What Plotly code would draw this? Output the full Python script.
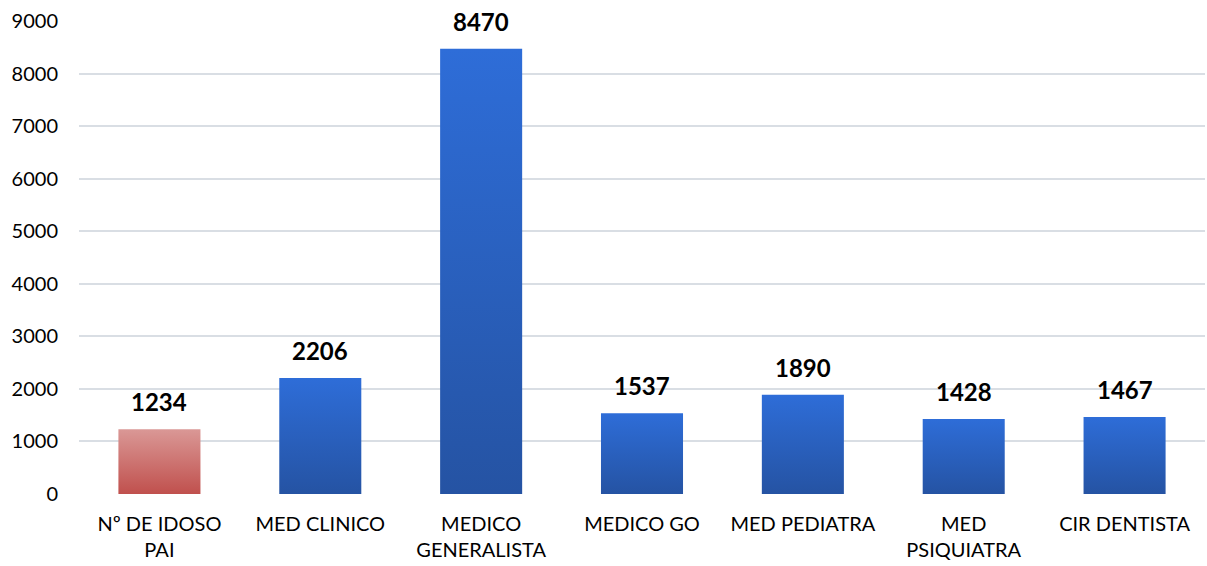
import plotly.graph_objects as go

categories = ["Nº DE IDOSO<br>PAI", "MED CLINICO", "MEDICO<br>GENERALISTA", "MEDICO GO",
              "MED PEDIATRA", "MED<br>PSIQUIATRA", "CIR DENTISTA"]
values = [1234, 2206, 8470, 1537, 1890, 1428, 1467]
highlight = [True, False, False, False, False, False, False]
y_ticks = [0, 1000, 2000, 3000, 4000, 5000, 6000, 7000, 8000, 9000]

half_w = 0.255
red_scale = [[0, "#C0504D"], [1, "#DA9896"]]
blue_scale = [[0, "#2553A3"], [1, "#2E6DD8"]]
FONT = "Lato, Noto Sans, sans-serif"

fig = go.Figure()
for i, (v, h) in enumerate(zip(values, highlight)):
    xs = [i - half_w, i + half_w, i + half_w, i - half_w, i - half_w]
    ys = [0, 0, v, v, 0]
    fig.add_trace(go.Scatter(
        x=xs, y=ys, mode="lines", fill="toself",
        line=dict(width=0, color="rgba(0,0,0,0)"),
        fillgradient=dict(type="vertical", colorscale=red_scale if h else blue_scale,
                          start=0, stop=v),
        showlegend=False, hoverinfo="skip",
    ))

for i, v in enumerate(values):
    fig.add_annotation(
        x=i, y=v, xref="x", yref="y", text=f"<b>{v}</b>",
        showarrow=False, yanchor="bottom", yshift=11,
        font=dict(family=FONT, size=24, color="#000000"),
    )

fig.update_layout(
    width=1207, height=566,
    margin=dict(l=79, r=2, t=21, b=72, autoexpand=False),
    paper_bgcolor="white", plot_bgcolor="white",
    font=dict(family=FONT, size=20, color="#000000"),
)
fig.update_xaxes(
    range=[-0.5, len(values) - 0.5], tickmode="array",
    tickvals=list(range(len(values))), ticktext=categories,
    showgrid=False, zeroline=False, showline=False, ticks="",
    ticklabelstandoff=16, tickfont=dict(size=20), automargin=False,
)
fig.update_yaxes(
    range=[0, 9000], tickmode="array", tickvals=y_ticks,
    showgrid=True, gridcolor="#D9DEE4", gridwidth=1.5,
    zeroline=False, showline=False, ticks="", ticklabelstandoff=20,
    tickfont=dict(size=20), automargin=False,
)

fig.write_html("out.html", config={"displayModeBar": False},
               post_script="document.body.style.margin='0';document.body.style.overflow='hidden';")
